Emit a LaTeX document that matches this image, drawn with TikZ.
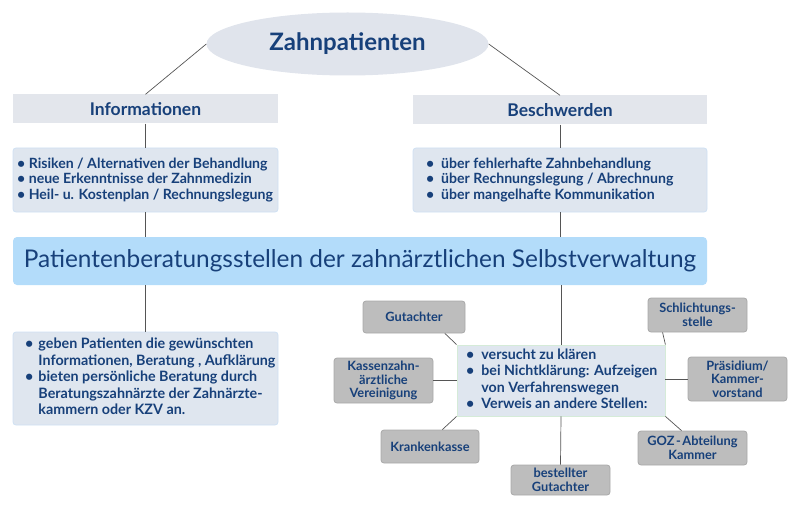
\documentclass[tikz,border=0pt]{standalone}
\usepackage{fontspec}
\setmainfont{Lato}
\usetikzlibrary{shapes.geometric,calc}
\definecolor{navy}{HTML}{17407A}
\definecolor{ellfill}{HTML}{E0E4EC}
\definecolor{headfill}{HTML}{E3E6EC}
\definecolor{listfill}{HTML}{DFE6EF}
\definecolor{listborder}{HTML}{CFE0F3}
\definecolor{bigfill}{HTML}{B3DCFA}
\definecolor{grayfill}{HTML}{BDBDBD}
\definecolor{grayborder}{HTML}{A9A9A9}
\definecolor{centerborder}{HTML}{D5EBD8}
\definecolor{linecol}{HTML}{555555}
\tikzset{
  conn/.style={draw=linecol, line width=0.7pt},
  headbox/.style={fill=headfill, draw=none, minimum height=29pt, font=\bfseries\fontsize{17.5}{20}\selectfont, text=navy},
  listbox/.style={fill=listfill, draw=listborder, line width=0.8pt, rounded corners=3pt, inner sep=0pt},
  listtext/.style={anchor=west, text=navy, font=\bfseries\fontsize{14.1}{15.8}\selectfont, align=left, inner sep=0pt},
  graybox/.style={fill=grayfill, draw=grayborder, line width=0.8pt, rounded corners=3pt, text=navy, font=\bfseries\fontsize{12.8}{13.5}\selectfont, align=center, inner sep=0pt}
}
\newcommand{\bl}{\textbullet\ }
\begin{document}
\begin{tikzpicture}[x=1pt,y=-1pt]
\useasboundingbox (0,0) rectangle (800,505);
% title
\node[ellipse, fill=ellfill, minimum width=282pt, minimum height=63pt, inner sep=0pt, text=navy, font=\bfseries\fontsize{24}{28}\selectfont] (title) at (347.5,44) {Zahnpatienten};
% headers
\node[headbox, minimum width=265pt] (info) at (145.5,109) {Informationen};
\node[headbox, minimum width=294pt] (besch) at (560,110) {Beschwerden};
% list boxes
\node[listbox, minimum width=265pt, minimum height=64pt] (infolist) at (145.5,180) {};
\node[listtext] (infotext) at (17,180) {\bl Risiken / Alternativen der Behandlung\\\bl neue Erkenntnisse der Zahnmedizin\\\bl Heil- u. Kostenplan / Rechnungslegung};
\node[listbox, minimum width=294pt, minimum height=64pt] (beschlist) at (560,180) {};
\node[listtext] (beschtext) at (426,180) {\bl\ über fehlerhafte Zahnbehandlung\\\bl\ über Rechnungslegung / Abrechnung\\\bl\ über mangelhafte Kommunikation};
% big box
\node[fill=bigfill, draw=none, rounded corners=4pt, minimum width=694pt, minimum height=48pt, text=navy, font=\fontsize{24.4}{28}\selectfont] (big) at (360,261) {Patientenberatungsstellen der zahnärztlichen Selbstverwaltung};
% lower left
\node[listbox, minimum width=265pt, minimum height=93pt] (lowleft) at (145.5,378.5) {};
\node[anchor=west, text=navy, font=\bfseries\fontsize{14.3}{16.5}\selectfont, inner sep=0pt] (lowtext) at (25,378.5) {\begin{tabular}{@{}l@{\hspace{5pt}}l@{}}
\textbullet & geben Patienten die gewünschten\\
 & Informationen, Beratung , Aufklärung\\
\textbullet & bieten persönliche Beratung durch\\
 & Beratungszahnärzte der Zahnärzte-\\
 & kammern oder KZV an.
\end{tabular}};
% center right
\node[fill=listfill, draw=centerborder, line width=0.8pt, minimum width=208pt, minimum height=71pt] (center) at (561,380.5) {};
\node[anchor=west, text=navy, font=\bfseries\fontsize{14.2}{16.5}\selectfont, inner sep=0pt] (centertext) at (466,380.5) {\begin{tabular}{@{}l@{\hspace{7pt}}l@{}}
\textbullet & versucht zu klären\\
\textbullet & bei Nichtklärung: Aufzeigen\\
 & von Verfahrenswegen\\
\textbullet & Verweis an andere Stellen:
\end{tabular}};
% gray boxes
\node[graybox, minimum width=102pt, minimum height=32pt] (gut) at (414,317) {Gutachter};
\node[graybox, minimum width=99pt, minimum height=45pt] (kzv) at (383.5,380.5) {Kassenzahn-\\ärztliche\\Vereinigung};
\node[graybox, minimum width=98pt, minimum height=33pt] (kk) at (430,446.5) {Krankenkasse};
\node[graybox, minimum width=99pt, minimum height=30pt] (bg) at (560.5,480) {bestellter\\Gutachter};
\node[graybox, minimum width=99pt, minimum height=34pt] (schl) at (697.5,315) {Schlichtungs-\\stelle};
\node[graybox, minimum width=99pt, minimum height=44pt] (praes) at (737.5,379) {Präsidium/\\Kammer-\\vorstand};
\node[graybox, minimum width=109pt, minimum height=34pt] (goz) at (692.5,448) {GOZ\hspace{1.5pt}-\hspace{1.5pt}Abteilung\\Kammer};
% connectors
\draw[conn] (title.west) -- (info.north);
\draw[conn] (title.east) -- (besch.north);
\draw[conn] (info.south) -- (infolist.north);
\draw[conn] (infolist.south) -- (big.north -| infolist.south);
\draw[conn] (besch.south) -- (beschlist.north);
\draw[conn] (beschlist.south) -- (big.north -| beschlist.south);
\draw[conn] (big.south -| lowleft.north) -- (lowleft.north);
\draw[conn] (big.south -| center.north) -- (center.north);
\draw[conn] (center.south) -- (bg.north);
\draw[conn] ($(gut.south)!0.6!(gut.south east)$) -- (center.north west);
\draw[conn] (kzv.east) -- (center.west |- kzv.east);
\draw[conn] ($(kk.north)!0.25!(kk.north east)$) -- (center.south west);
\draw[conn] (center.north east) -- ($(schl.south west)!0.3!(schl.south)$);
\draw[conn] (center.east |- praes.west) -- (praes.west);
\draw[conn] (center.south east) -- ($(goz.north west)!0.8!(goz.north)$);
\end{tikzpicture}
\end{document}
